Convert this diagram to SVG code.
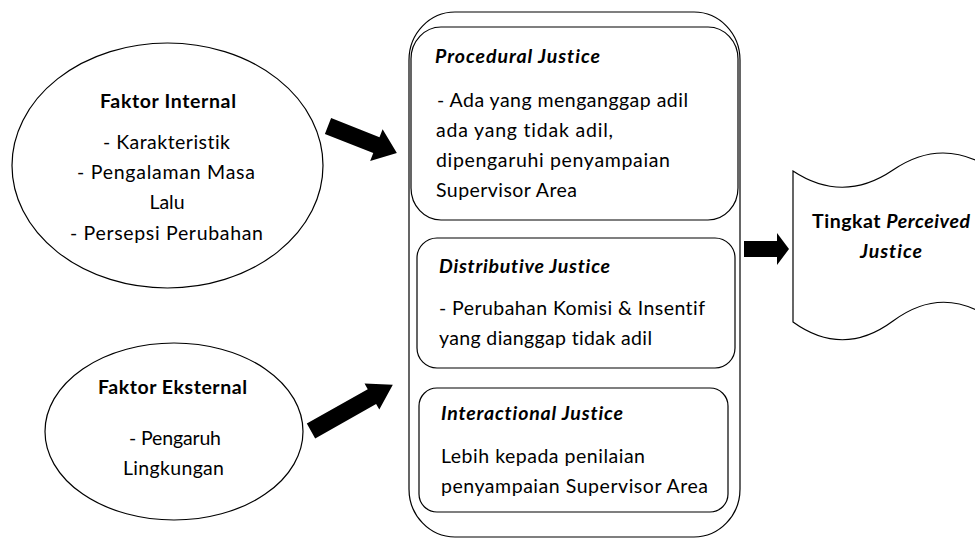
<svg xmlns="http://www.w3.org/2000/svg" width="975" height="538" viewBox="0 0 975 538">
<style>
.shape{fill:#fff;stroke:#000;stroke-width:1.2}
.t{font-family:Lato,"Liberation Sans",sans-serif;font-size:19.5px;fill:#000;font-variant-ligatures:none;font-feature-settings:"liga" 0,"dlig" 0}
.c{text-anchor:middle}
.b{font-weight:bold}
.bi{font-weight:bold;font-style:italic}
.arrow{fill:#000;stroke:none}
</style>
<rect width="975" height="538" fill="#fff"/>
<g id="faktor-internal">
<ellipse class="shape" cx="167.5" cy="165.5" rx="155.5" ry="122.5"/>
<text class="t c b" x="168" y="108" textLength="136" lengthAdjust="spacing">Faktor Internal</text>
<text class="t c" x="166.5" y="149" textLength="127" lengthAdjust="spacing">- Karakteristik</text>
<text class="t c" x="166" y="179" textLength="178" lengthAdjust="spacing">- Pengalaman Masa</text>
<text class="t c" x="167" y="209">Lalu</text>
<text class="t c" x="166.5" y="240" textLength="193" lengthAdjust="spacing">- Persepsi Perubahan</text>
</g>
<g id="faktor-eksternal">
<ellipse class="shape" cx="174" cy="431.5" rx="129" ry="88.5"/>
<text class="t c b" x="172.5" y="394" textLength="149" lengthAdjust="spacing">Faktor Eksternal</text>
<text class="t c" x="175" y="445" textLength="92" lengthAdjust="spacing">- Pengaruh</text>
<text class="t c" x="173.5" y="475" textLength="101" lengthAdjust="spacing">Lingkungan</text>
</g>
<g id="justice-container">
<rect class="shape" x="409" y="12" width="331" height="525" rx="46" ry="48"/>
</g>
<g id="procedural-justice">
<rect class="shape" x="411" y="27" width="327" height="193" rx="30" ry="32"/>
<text class="t bi" x="435" y="63" textLength="165" lengthAdjust="spacing">Procedural Justice</text>
<text class="t" x="437" y="107" textLength="251" lengthAdjust="spacing">- Ada yang menganggap adil</text>
<text class="t" x="436" y="137" textLength="177" lengthAdjust="spacing">ada yang tidak adil,</text>
<text class="t" x="436" y="167" textLength="234" lengthAdjust="spacing">dipengaruhi penyampaian</text>
<text class="t" x="436" y="197" textLength="141" lengthAdjust="spacing">Supervisor Area</text>
</g>
<g id="distributive-justice">
<rect class="shape" x="417" y="238" width="318" height="130" rx="20" ry="20"/>
<text class="t bi" x="439" y="273" textLength="171" lengthAdjust="spacing">Distributive Justice</text>
<text class="t" x="439" y="315" textLength="266" lengthAdjust="spacing">- Perubahan Komisi &amp; Insentif</text>
<text class="t" x="439" y="345" textLength="213" lengthAdjust="spacing">yang dianggap tidak adil</text>
</g>
<g id="interactional-justice">
<rect class="shape" x="419" y="388" width="309" height="124" rx="18" ry="18"/>
<text class="t bi" x="441" y="420" textLength="182" lengthAdjust="spacing">Interactional Justice</text>
<text class="t" x="441" y="463" textLength="204" lengthAdjust="spacing">Lebih kepada penilaian</text>
<text class="t" x="441" y="493" textLength="267" lengthAdjust="spacing">penyampaian Supervisor Area</text>
</g>
<g id="perceived-justice">
<path class="shape" d="M793,171 Q843,204 893,170 Q943,136 993,170 L993,320 Q943,284 893,321 Q843,358 793,322 Z"/>
<text class="t b" x="812" y="228" textLength="158" lengthAdjust="spacing">Tingkat <tspan class="bi">Perceived</tspan></text>
<text class="t bi" x="860" y="258" textLength="62" lengthAdjust="spacing">Justice</text>
</g>
<g id="connectors">
<polygon class="arrow" transform="translate(328,126) rotate(21.5)" points="0,-8.5 52,-8.5 52,-17 74,0 52,17 52,8.5 0,8.5"/>
<polygon class="arrow" transform="translate(311,431) rotate(-29.5)" points="0,-8.5 70,-8.5 70,-15 94,0 70,15 70,8.5 0,8.5"/>
<polygon class="arrow" points="744,241 777,241 777,233 789,249 777,265 777,257 744,257"/>
</g>
</svg>
